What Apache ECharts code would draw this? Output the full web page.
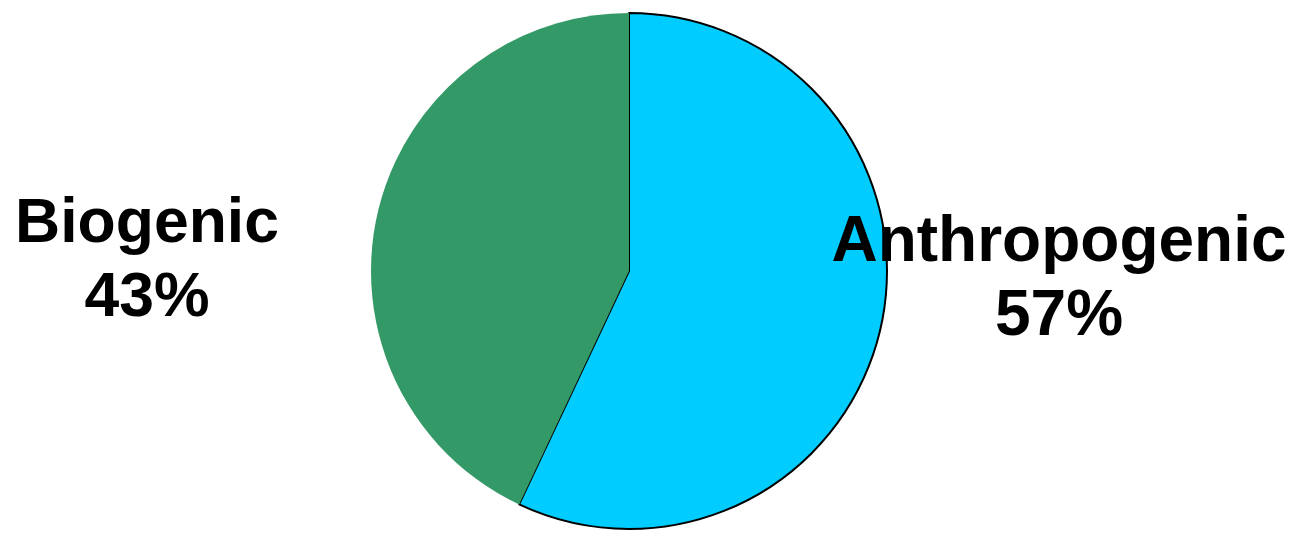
<!DOCTYPE html>
<html><head><meta charset="utf-8">
<script src="https://cdn.jsdelivr.net/npm/echarts@6/dist/echarts.min.js"></script>
<style>html,body{margin:0;padding:0;background:#fff}#c{width:1310px;height:536px}</style>
</head><body><div id="c"></div>
<script>
const categories = ['Anthropogenic', 'Biogenic'];
const values = [57, 43];
const colors = ['#00CCFF', '#339966'];
const labelPos = {Anthropogenic: [1059, 280], Biogenic: [147, 262]};
const labelSize = {Anthropogenic: 64, Biogenic: 62.5};
const borders = {Anthropogenic: 2, Biogenic: 0};

const chart = echarts.init(document.getElementById('c'), null, {renderer: 'canvas'});
chart.setOption({
  animation: false,
  series: [{
    type: 'pie',
    center: [629, 271],
    radius: 258,
    startAngle: 90,
    clockwise: true,
    avoidLabelOverlap: false,
    data: categories.map((c, i) => ({
      name: c, value: values[i],
      itemStyle: {color: colors[i], borderColor: '#000', borderWidth: borders[c]},
      label: {fontSize: labelSize[c]}
    })),
    label: {
      show: true,
      position: 'outside',
      formatter: p => p.name + '\n' + p.value + '%',
      fontFamily: 'Liberation Sans, Arial, sans-serif',
      fontWeight: 'bold',
      lineHeight: 74,
      color: '#000',
      align: 'center'
    },
    labelLine: {show: false},
    labelLayout: function (params) {
      const name = categories[params.dataIndex];
      const pos = labelPos[name];
      return {x: pos[0], y: pos[1], align: 'center', verticalAlign: 'middle', hideOverlap: false};
    },
    emphasis: {disabled: true}
  }]
});
</script></body></html>
